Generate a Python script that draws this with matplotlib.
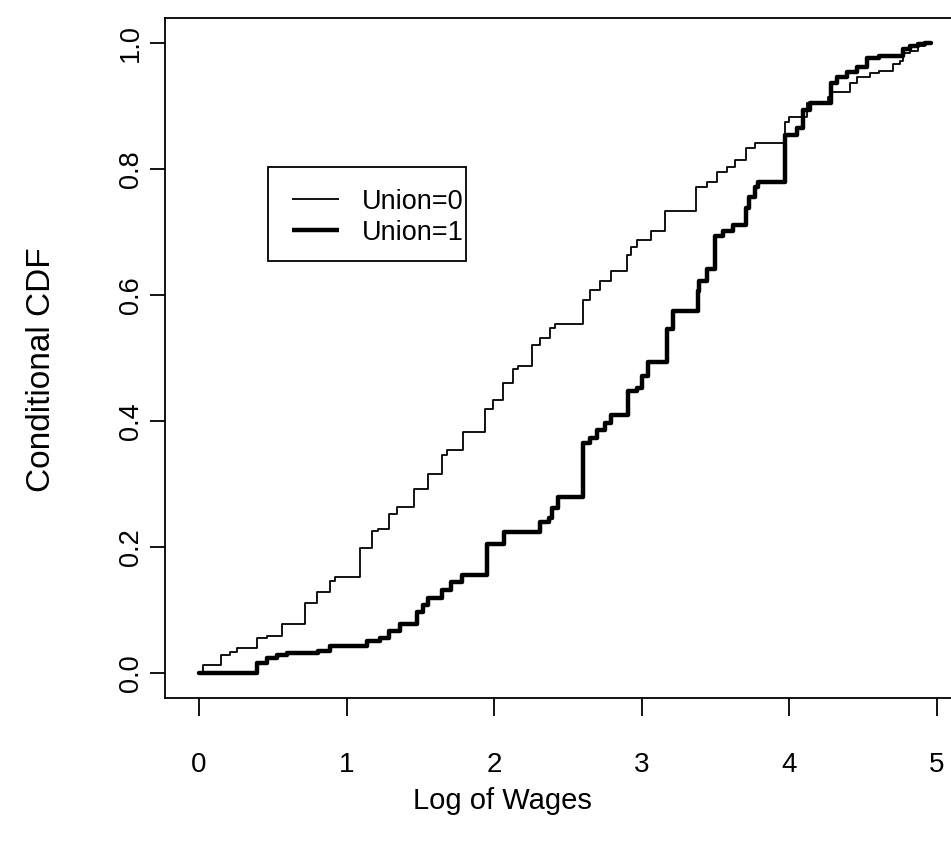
import matplotlib
matplotlib.use("Agg")
import matplotlib.pyplot as plt
from matplotlib.patches import Rectangle
from matplotlib.lines import Line2D

plt.rcParams['font.family'] = ['Liberation Sans', 'DejaVu Sans']

# Empirical conditional CDF of log wages, non-union workers (jump points and levels)
union0_x = [0, 0.03, 0.15, 0.21, 0.26, 0.39, 0.46, 0.56, 0.72, 0.80, 0.89, 0.92,
            1.09, 1.17, 1.21, 1.29, 1.34, 1.46, 1.55, 1.65, 1.68, 1.79, 1.94, 1.99,
            2.06, 2.13, 2.16, 2.26, 2.31, 2.38, 2.41, 2.60, 2.65, 2.72, 2.79, 2.90,
            2.93, 2.97, 3.06, 3.16, 3.37, 3.44, 3.51, 3.58, 3.63, 3.71, 3.77, 3.97,
            4.00, 4.12, 4.26, 4.29, 4.41, 4.46, 4.55, 4.61, 4.70, 4.75, 4.77, 4.82,
            4.87, 4.92, 4.96]
union0_cdf = [0, 0.013, 0.028, 0.033, 0.039, 0.056, 0.059, 0.078, 0.111, 0.129,
              0.146, 0.152, 0.198, 0.225, 0.229, 0.252, 0.264, 0.292, 0.316, 0.346,
              0.354, 0.382, 0.419, 0.434, 0.461, 0.482, 0.488, 0.520, 0.532, 0.548,
              0.554, 0.592, 0.608, 0.622, 0.638, 0.663, 0.677, 0.687, 0.702, 0.734,
              0.771, 0.779, 0.795, 0.804, 0.815, 0.834, 0.841, 0.875, 0.883, 0.905,
              0.914, 0.922, 0.936, 0.946, 0.952, 0.956, 0.967, 0.972, 0.985, 0.988,
              0.996, 1.0, 1.0]

# Empirical conditional CDF of log wages, union workers
union1_x = [0, 0.39, 0.46, 0.53, 0.60, 0.81, 0.89, 1.14, 1.23, 1.29, 1.36, 1.48,
            1.52, 1.55, 1.65, 1.71, 1.78, 1.95, 2.07, 2.31, 2.37, 2.39, 2.43, 2.60,
            2.65, 2.70, 2.75, 2.79, 2.91, 2.97, 3.00, 3.04, 3.17, 3.21, 3.38, 3.39,
            3.44, 3.50, 3.55, 3.62, 3.71, 3.73, 3.77, 3.79, 3.97, 4.05, 4.09, 4.14,
            4.28, 4.32, 4.39, 4.46, 4.53, 4.61, 4.77, 4.82, 4.87, 4.92, 4.96]
union1_cdf = [0, 0.015, 0.023, 0.028, 0.031, 0.035, 0.043, 0.051, 0.055, 0.066,
              0.077, 0.097, 0.108, 0.119, 0.132, 0.144, 0.155, 0.204, 0.223, 0.240,
              0.246, 0.262, 0.280, 0.365, 0.373, 0.385, 0.396, 0.409, 0.447, 0.453,
              0.471, 0.494, 0.546, 0.575, 0.606, 0.622, 0.641, 0.693, 0.701, 0.712,
              0.739, 0.755, 0.771, 0.780, 0.854, 0.865, 0.894, 0.905, 0.936, 0.946,
              0.954, 0.962, 0.976, 0.980, 0.991, 0.995, 0.999, 1.0, 1.0]

series_labels = ["Union=0", "Union=1"]
series_widths = [1.3, 3.2]
x_ticks = [0, 1, 2, 3, 4, 5]
y_ticks = [0.0, 0.2, 0.4, 0.6, 0.8, 1.0]

W, H = 951, 848
AX_L, AX_T, AX_W, AX_H = 165, 18, 794, 680   # plot region in pixels
fig = plt.figure(figsize=(W / 100, H / 100), dpi=100)
ax = fig.add_axes([AX_L / W, 1 - (AX_T + AX_H) / H, AX_W / W, AX_H / H])


def ax_frac(px, py):
    """Pixel position on the figure -> axes fraction."""
    return (px - AX_L) / AX_W, (AX_T + AX_H - py) / AX_H


ax.step(union0_x, union0_cdf, where="post", color="black", lw=series_widths[0],
        solid_joinstyle="round")
ax.step(union1_x, union1_cdf, where="post", color="black", lw=series_widths[1],
        solid_joinstyle="round", solid_capstyle="round")

ax.set_xlim(-0.23, 5.15)
ax.set_ylim(-0.04, 1.04)

for side in ["left", "top", "bottom", "right"]:
    ax.spines[side].set_linewidth(1.3)
    ax.spines[side].set_color("black")

ax.set_xticks(x_ticks)
ax.set_xticklabels([str(t) for t in x_ticks])
ax.set_yticks(y_ticks)
ax.set_yticklabels([f"{t:.1f}" for t in y_ticks], rotation=90, va="center")

ax.tick_params(axis="x", direction="out", length=13, width=1.3, pad=26,
               labelsize=20)
ax.tick_params(axis="y", direction="out", length=11, width=1.3, pad=4,
               labelsize=19.5)

ax.set_xlabel("Log of Wages", fontsize=21)
ax.xaxis.set_label_coords(*ax_frac(502, 801))
ax.xaxis.label.set_va("center")
ax.set_ylabel("Conditional CDF", fontsize=24)
ax.yaxis.set_label_coords(*ax_frac(42, 370))
ax.yaxis.label.set_va("center")

# Legend box drawn in axes-fraction coordinates
bx0, by0 = ax_frac(268, 261)
bx1, by1 = ax_frac(466, 167)
ax.add_patch(Rectangle((bx0, by0), bx1 - bx0, by1 - by0, transform=ax.transAxes,
                       facecolor="white", edgecolor="black", lw=1.3, zorder=5))
for label, lw, row_y in zip(series_labels, series_widths, [199, 230]):
    hx0, hy = ax_frac(292, row_y)
    hx1, _ = ax_frac(339, row_y)
    ax.add_line(Line2D([hx0, hx1], [hy, hy], transform=ax.transAxes,
                       color="black", lw=lw, solid_capstyle="butt", zorder=6))
    tx, ty = ax_frac(362, row_y + 10)
    ax.text(tx, ty, label, transform=ax.transAxes, fontsize=19.5,
            ha="left", va="baseline", zorder=6)

fig.savefig("out.png", dpi=100, facecolor="white")
